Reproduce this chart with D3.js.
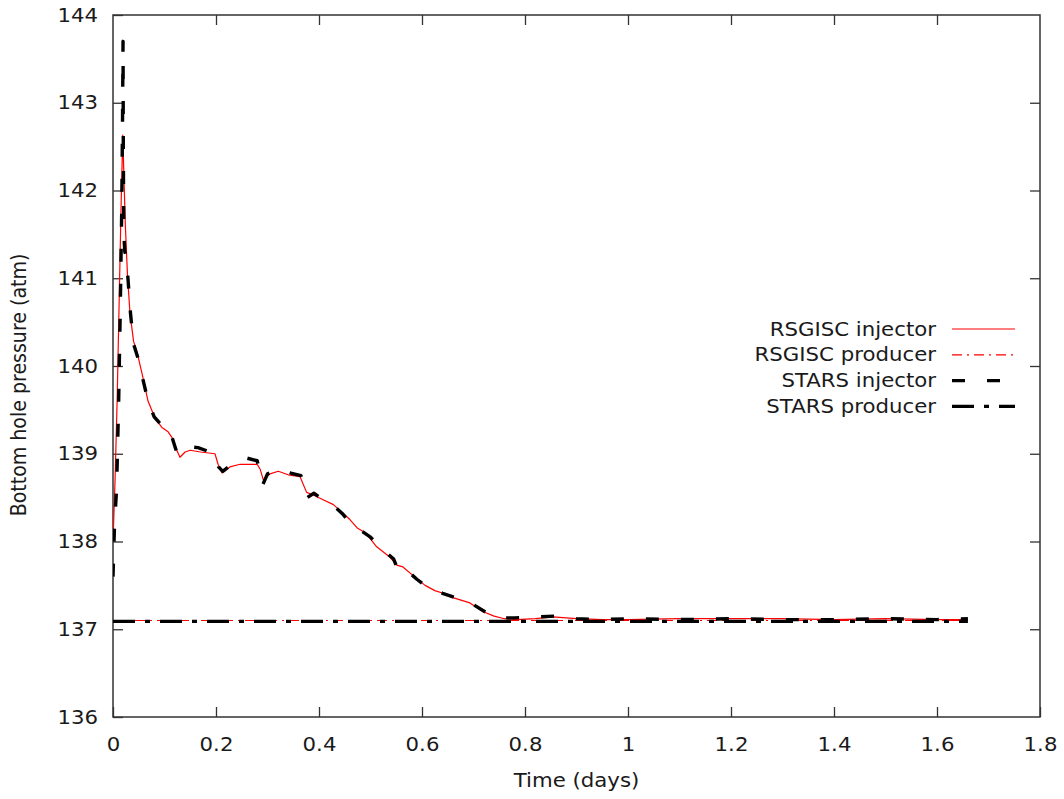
<!DOCTYPE html>
<html>
<head>
<meta charset="utf-8">
<script src="https://cdn.jsdelivr.net/npm/d3@7"></script>
<style>
  html, body { margin: 0; padding: 0; background: #fff; }
  svg { display: block; }
  text { font-family: "DejaVu Sans", sans-serif; fill: #1a1a1a; }
</style>
</head>
<body>
<svg id="chart" width="1064" height="799"></svg>
<script>
// Bottom hole pressure (atm) versus time (days), two simulators
const rsgiscInjector = [
  [0, 138.0], [0.004, 138.7], [0.008, 139.6], [0.012, 140.75], [0.016, 141.9], [0.019, 142.63],
  [0.021, 142.2], [0.024, 141.6], [0.028, 141.05], [0.033, 140.6], [0.040, 140.28], [0.047, 140.15],
  [0.057, 139.9], [0.068, 139.6], [0.082, 139.4], [0.095, 139.3], [0.107, 139.25], [0.115, 139.18],
  [0.123, 139.05], [0.130, 138.96], [0.140, 139.02], [0.150, 139.04], [0.170, 139.02], [0.198, 139.0],
  [0.204, 138.88], [0.212, 138.78], [0.227, 138.85], [0.247, 138.88], [0.280, 138.88], [0.286, 138.82],
  [0.292, 138.70], [0.305, 138.77], [0.321, 138.80], [0.340, 138.76], [0.363, 138.74], [0.376, 138.56],
  [0.389, 138.53], [0.410, 138.47], [0.428, 138.42], [0.445, 138.33], [0.460, 138.25], [0.475, 138.15],
  [0.490, 138.10], [0.512, 137.94], [0.538, 137.82], [0.551, 137.73], [0.563, 137.71], [0.585, 137.6],
  [0.606, 137.5], [0.625, 137.44], [0.641, 137.41], [0.660, 137.36], [0.693, 137.30], [0.719, 137.20],
  [0.740, 137.15], [0.760, 137.12], [0.784, 137.11], [0.82, 137.12], [0.854, 137.14], [0.90, 137.12],
  [0.95, 137.11], [1.0, 137.11], [1.1, 137.12], [1.2, 137.12], [1.3, 137.12], [1.4, 137.11],
  [1.5, 137.12], [1.6, 137.11], [1.66, 137.11]
];
const rsgiscProducer = [
  [0, 137.10], [0.4, 137.10], [0.8, 137.10], [1.2, 137.10], [1.66, 137.10]
];
const starsInjector = [
  [0, 137.6], [0.003, 138.2], [0.007, 138.6], [0.011, 139.6], [0.014, 140.6], [0.017, 141.8],
  [0.0185, 142.8], [0.0195, 143.7], [0.020, 142.5], [0.021, 141.5], [0.023, 141.3], [0.026, 141.25],
  [0.029, 141.0], [0.034, 140.6], [0.040, 140.25], [0.048, 140.1], [0.058, 139.85], [0.068, 139.6],
  [0.080, 139.42], [0.095, 139.32], [0.105, 139.32], [0.113, 139.22], [0.123, 139.03], [0.130, 139.0],
  [0.145, 139.08], [0.165, 139.07], [0.198, 139.0], [0.205, 138.85], [0.213, 138.8], [0.235, 138.9],
  [0.260, 138.95], [0.280, 138.92], [0.291, 138.65], [0.300, 138.77], [0.325, 138.83], [0.345, 138.78],
  [0.365, 138.75], [0.372, 138.58], [0.377, 138.5], [0.39, 138.55], [0.41, 138.47], [0.43, 138.4],
  [0.445, 138.32], [0.462, 138.2], [0.48, 138.13], [0.50, 138.05], [0.52, 137.93], [0.545, 137.8],
  [0.553, 137.68], [0.565, 137.7], [0.59, 137.57], [0.61, 137.48], [0.64, 137.41], [0.665, 137.36],
  [0.70, 137.28], [0.725, 137.19], [0.75, 137.13], [0.78, 137.13], [0.82, 137.14], [0.86, 137.15],
  [0.90, 137.12], [0.95, 137.11], [1.0, 137.12], [1.1, 137.11], [1.2, 137.12], [1.3, 137.11],
  [1.4, 137.11], [1.5, 137.12], [1.6, 137.11], [1.66, 137.12]
];
const starsProducer = [
  [0, 137.09], [0.4, 137.09], [0.8, 137.09], [1.2, 137.09], [1.66, 137.09]
];

const xTicks = [0, 0.2, 0.4, 0.6, 0.8, 1, 1.2, 1.4, 1.6, 1.8];
const yTicks = [136, 137, 138, 139, 140, 141, 142, 143, 144];
const seriesNames = ["RSGISC injector", "RSGISC producer", "STARS injector", "STARS producer"];
const xTitle = "Time (days)";
const yTitle = "Bottom hole pressure (atm)";

(function drawChart() {
  const series = [
    { name: seriesNames[0], data: rsgiscInjector, color: "#ff0000", width: 1.2, dash: null },
    { name: seriesNames[1], data: rsgiscProducer, color: "#ff0000", width: 1.2, dash: "10,5,2,5" },
    { name: seriesNames[2], data: starsInjector, color: "#000000", width: 3.4, dash: "13,22" },
    { name: seriesNames[3], data: starsProducer, color: "#000000", width: 3.4, dash: "22,10,5,10" }
  ];

  const plotLeft = 113, plotRight = 1040, plotTop = 15, plotBottom = 717;
  const svg = d3.select("#chart");
  const x = d3.scaleLinear().domain([0, 1.8]).range([plotLeft, plotRight]);
  const y = d3.scaleLinear().domain([136, 144]).range([plotBottom, plotTop]);

  const axisColor = "#333";
  const tickLen = 10;
  const fontSize = 19;
  const sx = 1.12;   // horizontal glyph stretch

  // widen a text element horizontally while keeping its anchor in place
  function stretch(sel) {
    sel.each(function () {
      const t = d3.select(this);
      const x0 = +t.attr("x") || 0;
      t.attr("x", x0 / sx).attr("transform", `scale(${sx},1)`);
    });
  }

  // frame and inward ticks on all four sides
  const gAxes = svg.append("g");
  function styleAxis(g) {
    g.select(".domain").remove();
    g.selectAll(".tick line").attr("stroke", axisColor).attr("stroke-width", 1.3);
    g.selectAll(".tick text").attr("font-size", fontSize).attr("fill", "#1a1a1a")
      .attr("font-family", "DejaVu Sans, sans-serif")
      .call(stretch);
  }
  gAxes.append("g").attr("transform", `translate(0,${plotBottom})`)
    .call(d3.axisBottom(x).tickValues(xTicks).tickSize(-tickLen).tickPadding(21).tickFormat(d3.format("")))
    .call(styleAxis);
  gAxes.append("g").attr("transform", `translate(0,${plotTop})`)
    .call(d3.axisTop(x).tickValues(xTicks.slice(1, -1)).tickSize(-tickLen).tickFormat(""))
    .call(styleAxis);
  gAxes.append("g").attr("transform", `translate(${plotLeft},0)`)
    .call(d3.axisLeft(y).tickValues(yTicks).tickSize(-tickLen).tickPadding(15).tickFormat(d3.format("d")))
    .call(styleAxis);
  gAxes.append("g").attr("transform", `translate(${plotRight},0)`)
    .call(d3.axisRight(y).tickValues(yTicks.slice(1, -1)).tickSize(-tickLen).tickFormat(""))
    .call(styleAxis);

  gAxes.append("rect")
    .attr("x", plotLeft).attr("y", plotTop)
    .attr("width", plotRight - plotLeft).attr("height", plotBottom - plotTop)
    .attr("fill", "none").attr("stroke", axisColor).attr("stroke-width", 1.5);

  // axis titles
  svg.append("text")
    .attr("x", (plotLeft + plotRight) / 2).attr("y", 787)
    .attr("text-anchor", "middle").attr("font-size", fontSize)
    .text(xTitle)
    .call(stretch);
  svg.append("text")
    .attr("transform", `translate(26,${(plotTop + plotBottom) / 2 + 19}) scale(${sx},1) rotate(-90)`)
    .attr("text-anchor", "middle").attr("font-size", fontSize)
    .text(yTitle);

  // data lines
  svg.append("clipPath").attr("id", "plotClip")
    .append("rect").attr("x", plotLeft).attr("y", plotTop)
    .attr("width", plotRight - plotLeft).attr("height", plotBottom - plotTop);
  const line = d3.line().x(d => x(d[0])).y(d => y(d[1]));
  const gLines = svg.append("g").attr("clip-path", "url(#plotClip)");
  series.forEach(s => {
    gLines.append("path")
      .datum(s.data)
      .attr("d", line)
      .attr("fill", "none")
      .attr("stroke", s.color)
      .attr("stroke-width", s.width)
      .attr("stroke-dasharray", s.dash)
      .attr("stroke-linejoin", "round");
  });

  // legend
  const legendTextX = 936, legendLineX0 = 952, legendLineX1 = 1015;
  const legendY0 = 329, legendStep = 25.8;
  const gLegend = svg.append("g");
  series.forEach((s, i) => {
    const ly = legendY0 + i * legendStep;
    gLegend.append("text")
      .attr("x", legendTextX).attr("y", ly)
      .attr("dy", "0.35em")
      .attr("text-anchor", "end").attr("font-size", fontSize)
      .text(s.name)
      .call(stretch);
    gLegend.append("line")
      .attr("x1", legendLineX0).attr("x2", legendLineX1)
      .attr("y1", ly).attr("y2", ly)
      .attr("stroke", s.color)
      .attr("stroke-width", s.width)
      .attr("stroke-dasharray", s.dash);
  });
})();
</script>
</body>
</html>
